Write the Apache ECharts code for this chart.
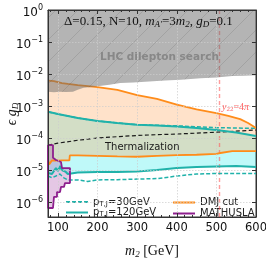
<!DOCTYPE html>
<html><head><meta charset="utf-8">
<script src="https://cdn.jsdelivr.net/npm/echarts@6/dist/echarts.min.js"></script>
<style>html,body{margin:0;padding:0;background:#fff}#c{width:266px;height:259px}</style>
</head><body><div id="c"></div>
<script>
// ---- data (m2 in GeV, epsilon*gD) ----
const lhcX = [75, 90, 105, 120, 138, 150, 165, 185, 205, 230, 257, 290, 330, 370, 410, 460, 500, 540, 570, 600];
const lhcY = [2.8e-3, 2.7e-3, 2.8e-3, 2.75e-3, 2.8e-3, 3.2e-3, 3.7e-3, 3.9e-3, 4.2e-3, 4.6e-3, 5.2e-3, 5.4e-3, 5.8e-3, 6.3e-3, 6.6e-3, 7.4e-3, 7.8e-3, 8.6e-3, 8.8e-3, 9.1e-3];

const dmjUpX = [75, 80, 90, 100, 110, 125, 150, 175, 200, 250, 300, 350, 400, 450, 500, 530, 560, 580, 600];
const dmjUpY = [6.2e-3, 6.5e-3, 6.0e-3, 5.6e-3, 5.2e-3, 4.9e-3, 4.5e-3, 4.2e-3, 3.9e-3, 3.2e-3, 2.2e-3, 1.66e-3, 1.1e-3, 7.8e-4, 6.0e-4, 4.9e-4, 3.9e-4, 2.95e-4, 2.05e-4];

const dmjLoX = [75, 78, 80, 85, 90, 100, 110, 120, 129, 130, 150, 200, 250, 300, 350, 400, 450, 500, 510, 540, 560, 600];
const dmjLoY = [2.0e-5, 1.5e-5, 1.6e-5, 2.0e-5, 2.0e-5, 1.95e-5, 2.0e-5, 2.0e-5, 2.0e-5, 2.85e-5, 2.85e-5, 2.75e-5, 2.65e-5, 2.6e-5, 2.75e-5, 2.9e-5, 3.0e-5, 3.2e-5, 3.4e-5, 3.9e-5, 3.9e-5, 3.9e-5];

const pt120UpX = [75, 100, 125, 150, 200, 250, 300, 350, 400, 450, 500, 550, 600];
const pt120UpY = [6.6e-4, 5.6e-4, 4.9e-4, 4.2e-4, 3.4e-4, 2.95e-4, 2.6e-4, 2.45e-4, 2.3e-4, 2.05e-4, 1.78e-4, 1.48e-4, 1.15e-4];

const pt120LoX = [75, 80, 85, 90, 95, 100, 105, 110, 115, 120, 125, 130, 150, 200, 250, 300, 350, 400, 450, 500, 550, 600];
const pt120LoY = [8.1e-6, 8.7e-6, 7.5e-6, 8.1e-6, 1.15e-5, 9.3e-6, 1.33e-5, 1.0e-5, 9.3e-6, 8.7e-6, 7.5e-6, 8.1e-6, 8.4e-6, 8.7e-6, 8.7e-6, 9.0e-6, 1.0e-5, 1.15e-5, 1.24e-5, 1.29e-5, 1.33e-5, 1.24e-5];

const pt30UpX = [75, 100, 125, 150, 200, 250, 300, 350, 400, 450, 500, 550, 600];
const pt30UpY = [6.6e-4, 5.6e-4, 4.9e-4, 4.2e-4, 3.4e-4, 2.95e-4, 2.6e-4, 2.5e-4, 2.4e-4, 2.25e-4, 2.1e-4, 2.05e-4, 2.0e-4];

const pt30LoX = [75, 85, 95, 105, 115, 125, 130, 150, 175, 200, 250, 300, 350, 380, 400, 450, 500, 550, 600];
const pt30LoY = [6.5e-6, 5.7e-6, 6.5e-6, 7.5e-6, 5.7e-6, 4.9e-6, 4.55e-6, 4.9e-6, 4.4e-6, 4.9e-6, 5.0e-6, 5.2e-6, 5.4e-6, 6.0e-6, 6.5e-6, 7.5e-6, 7.8e-6, 7.8e-6, 7.8e-6];

const thermX = [75, 100, 150, 200, 250, 300, 350, 400, 450, 500, 550, 600];
const thermY = [6.0e-5, 6.9e-5, 8.5e-5, 1.0e-4, 1.1e-4, 1.2e-4, 1.27e-4, 1.33e-4, 1.42e-4, 1.52e-4, 1.64e-4, 1.78e-4];

const mathX = [75, 87.6, 87.6, 95.2, 95.2, 107.8, 110.3, 130.5, 130.5, 117.9, 115.4, 107.8, 105.3, 97.7, 97.7, 90.1, 87.6, 75, 75];
const mathY = [6.0e-5, 6.0e-5, 2.4e-5, 2.05e-5, 1.78e-5, 1.78e-5, 1.15e-5, 1.15e-5, 3.9e-6, 3.9e-6, 2.95e-6, 2.95e-6, 2.05e-6, 2.05e-6, 1.45e-6, 1.45e-6, 6.5e-7, 6.5e-7, 6.0e-5];

const perturbX = [508];   // y22 = 4 pi line
const xMin = 75, xMax = 600, yMin = 3.4e-7, yMax = 1;

// ---- helpers ----
const pairs = (xs, ys) => xs.map((x, i) => [x, ys[i]]);
function band(name, upX, upY, loX, loY, fill, z) {
  return {
    type: 'custom', name: name, silent: true, z: z,
    coordinateSystem: 'cartesian2d', xAxisIndex: 0, yAxisIndex: 0,
    data: [[upX[0], upY[0]]],
    renderItem: function (params, api) {
      const pts = [];
      for (let i = 0; i < upX.length; i++) pts.push(api.coord([upX[i], upY[i]]));
      for (let i = loX.length - 1; i >= 0; i--) pts.push(api.coord([loX[i], loY[i]]));
      return { type: 'polygon', shape: { points: pts }, style: { fill: fill, stroke: null } };
    }
  };
}
function hatch() {
  const s = 22, c = document.createElement('canvas');
  c.width = s; c.height = s;
  const g = c.getContext('2d');
  g.fillStyle = 'rgba(105,105,105,0.5)'; g.fillRect(0, 0, s, s);
  g.strokeStyle = 'rgba(80,80,80,0.22)'; g.lineWidth = 0.8;
  g.beginPath();
  g.moveTo(0, s); g.lineTo(s, 0);
  g.moveTo(-s / 2, s / 2); g.lineTo(s / 2, -s / 2);
  g.moveTo(s / 2, s * 1.5); g.lineTo(s * 1.5, s / 2);
  g.stroke();
  return c;
}
function line(name, xs, ys, color, width, dash, z) {
  return {
    type: 'line', name: name, data: pairs(xs, ys), showSymbol: false, symbol: 'none', z: z || 5,
    silent: true, animation: false,
    lineStyle: { color: color, width: width, type: dash || 'solid' },
    itemStyle: { color: color }
  };
}

const TEAL = '#20b2aa', ORANGE = '#ff8c1a', PURPLE = '#8e1f8e';
const lhcTop = lhcX.map(() => yMax);

const series = [
  band('_cyan', pt120UpX, pt120UpY, pt120LoX, pt120LoY, 'rgba(0,232,232,0.25)', 1),
  band('_peach', dmjUpX, dmjUpY, dmjLoX, dmjLoY, 'rgba(255,160,80,0.30)', 1),
  band('_gray', lhcX, lhcTop, lhcX, lhcY, { image: hatch(), repeat: 'repeat' }, 6),
  band('_math', mathX, mathY, [], [], 'rgba(170,70,170,0.30)', 1),
  line('therm', thermX, thermY, '#1a1a1a', 1.2, [4, 2.5]),
  line('pT30', pt30UpX, pt30UpY, TEAL, 1.5, [4, 2]),
  line('pT30', pt30LoX, pt30LoY, TEAL, 1.5, [4, 2]),
  line('pT120', pt120UpX, pt120UpY, TEAL, 2),
  line('pT120', pt120LoX, pt120LoY, TEAL, 2),
  line('DMJ cut', dmjUpX, dmjUpY, ORANGE, 1.8),
  line('DMJ cut', dmjLoX, dmjLoY, ORANGE, 1.8),
  line('MATHUSLA', mathX, mathY, PURPLE, 1.8),
  {
    type: 'line', name: '_pert', data: [], silent: true, z: 7,
    markLine: {
      silent: true, symbol: 'none', animation: false,
      label: { show: false },
      lineStyle: { color: 'rgba(255,90,90,0.6)', type: [4, 3], width: 1.4 },
      data: perturbX.map(v => ({ xAxis: v }))
    }
  }
];

const sup = v => { const e = Math.round(Math.log10(v)); return '{b|10}{e|' + (e < 0 ? '\u2212' + (-e) : e) + '}'; };

const option = {
  animation: false,
  grid: { left: 48, right: 10, top: 10, bottom: 42, show: true, borderColor: '#333', borderWidth: 1,
          backgroundColor: 'transparent', containLabel: false, outerBoundsMode: 'none' },
  xAxis: [{
    type: 'value', min: xMin, max: xMax, splitNumber: 5, z: 10,
    axisLine: { show: true, lineStyle: { color: '#333' } },
    axisTick: { inside: true, length: 4, lineStyle: { color: '#333' } },
    minorTick: { show: true, splitNumber: 5, length: 2, lineStyle: { color: '#333' } },
    axisLabel: { showMinLabel: false, color: '#111', fontSize: 11.5, fontFamily: 'DejaVu Sans', margin: 5 },
    splitLine: { show: true, lineStyle: { color: 'rgba(205,205,205,0.9)', type: [1.5, 1.5], width: 0.8 } },
    name: '{i|m}{s|2}{r| [GeV]}', nameLocation: 'middle', nameGap: 26,
    nameTextStyle: { rich: {
      i: { fontFamily: 'Liberation Serif', fontStyle: 'italic', fontSize: 14, color: '#111', lineHeight: 16 },
      s: { fontFamily: 'Liberation Serif', fontStyle: 'italic', fontSize: 9, color: '#111', verticalAlign: 'bottom', lineHeight: 10 },
      r: { fontFamily: 'Liberation Serif', fontSize: 14, color: '#111', lineHeight: 16 } } }
  }, {
    type: 'value', min: xMin, max: xMax, splitNumber: 5, position: 'top', z: 10,
    axisLine: { show: true, lineStyle: { color: '#333' } },
    axisTick: { inside: true, length: 4, lineStyle: { color: '#333' } },
    minorTick: { show: true, splitNumber: 5, length: 2, lineStyle: { color: '#333' } },
    axisLabel: { show: false }, splitLine: { show: false }
  }],
  yAxis: [{
    type: 'log', logBase: 10, min: yMin, max: yMax, z: 10,
    axisLine: { show: true, lineStyle: { color: '#333' } },
    axisTick: { inside: true, length: 4, lineStyle: { color: '#333' } },
    axisLabel: { showMinLabel: false, formatter: sup, margin: 5, padding: [6, 0, 0, 0],
      rich: { b: { fontSize: 12, fontFamily: 'DejaVu Sans', color: '#111', lineHeight: 18 },
              e: { fontSize: 8, fontFamily: 'DejaVu Sans', color: '#111', verticalAlign: 'top', lineHeight: 9 } } },
    splitLine: { show: true, lineStyle: { color: 'rgba(205,205,205,0.9)', type: [1.5, 1.5], width: 0.8 } }
  }, {
    type: 'log', logBase: 10, min: yMin, max: yMax, position: 'right', z: 10,
    axisLine: { show: true, lineStyle: { color: '#333' } },
    axisTick: { inside: true, length: 4, lineStyle: { color: '#333' } },
    axisLabel: { show: false }, splitLine: { show: false }
  }],
  legend: [{
    data: ['pT30', 'pT120'], orient: 'vertical', left: 60, top: 192,
    itemWidth: 22, itemHeight: 8, itemGap: 0, itemTextGap: 9, selectedMode: false,
    itemStyle: { opacity: 0 },
    formatter: n => n === 'pT30' ? '{a|p}{s|T,J}{a|=30GeV}' : '{a|p}{s|T,J}{a|=120GeV}',
    textStyle: { rich: {
      a: { fontSize: 10, fontFamily: 'DejaVu Sans', color: '#222', lineHeight: 11 },
      s: { fontSize: 7, fontFamily: 'DejaVu Sans', color: '#222', verticalAlign: 'bottom', lineHeight: 8 } } }
  }, {
    data: ['DMJ cut', 'MATHUSLA'], orient: 'vertical', left: 167, top: 192,
    itemWidth: 22, itemHeight: 8, itemGap: 0, itemTextGap: 11, selectedMode: false,
    itemStyle: { opacity: 0 },
    textStyle: { fontSize: 10, fontFamily: 'DejaVu Sans', color: '#222', lineHeight: 11 }
  }],
  graphic: [
    { type: 'text', x: 12, y: 114, rotation: Math.PI / 2, z: 20, silent: true,
      style: { text: '{i|\u03f5 g}{s|D}', align: 'center', verticalAlign: 'middle',
        rich: {
          i: { fontFamily: 'Liberation Serif', fontStyle: 'italic', fontSize: 14, fill: '#111', lineHeight: 16 },
          s: { fontFamily: 'Liberation Serif', fontStyle: 'italic', fontSize: 9, fill: '#111', verticalAlign: 'bottom', lineHeight: 10 } } } },
    { type: 'text', left: 64, top: 15, z: 20, silent: true,
      style: { text: '{r|\u0394=0.15, N=10, }{i|m}{s|A\u2032}{r|=3}{i|m}{s|2}{r|, }{i|g}{s|D}{r|=0.1}',
        rich: {
          r: { fontFamily: 'Liberation Serif', fontSize: 13, fill: '#111', lineHeight: 15 },
          i: { fontFamily: 'Liberation Serif', fontStyle: 'italic', fontSize: 13, fill: '#111', lineHeight: 15 },
          s: { fontFamily: 'Liberation Serif', fontStyle: 'italic', fontSize: 9, fill: '#111', verticalAlign: 'bottom', lineHeight: 10 } } } },
    { type: 'text', left: 100, top: 52, z: 20, silent: true,
      style: { text: 'LHC dilepton search', font: 'bold 10.5px "DejaVu Sans"', fill: '#888' } },
    { type: 'text', left: 105, top: 142, z: 20, silent: true,
      style: { text: 'Thermalization', font: '10px "DejaVu Sans"', fill: '#1a1a1a' } },
    { type: 'text', left: 222, top: 102, z: 20, silent: true,
      style: { text: '{i|y}{s|22}{r|=4}{i|\u03c0}',
        rich: {
          r: { fontFamily: 'Liberation Serif', fontSize: 10, fill: 'rgba(255,60,60,0.8)', lineHeight: 12 },
          i: { fontFamily: 'Liberation Serif', fontStyle: 'italic', fontSize: 10, fill: 'rgba(255,60,60,0.8)', lineHeight: 12 },
          s: { fontFamily: 'Liberation Serif', fontSize: 7, fill: 'rgba(255,60,60,0.8)', verticalAlign: 'bottom', lineHeight: 8 } } } }
  ],
  series: series
};
const chart = echarts.init(document.getElementById('c'), null, { renderer: 'canvas' });
chart.setOption(option);
</script></body></html>
